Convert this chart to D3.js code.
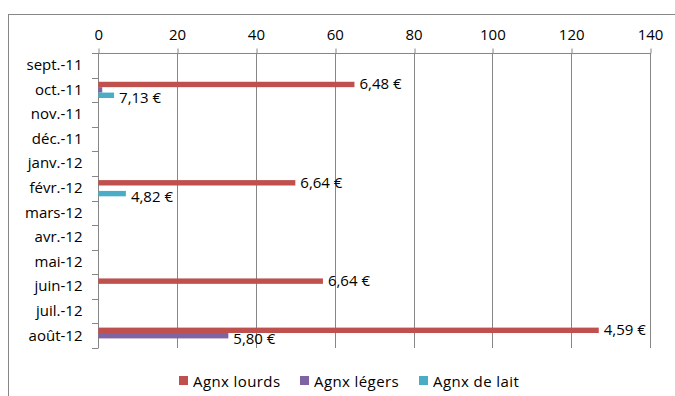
<!DOCTYPE html>
<html>
<head>
<meta charset="utf-8">
<script src="https://cdn.jsdelivr.net/npm/d3@7"></script>
<style>
  html, body { margin: 0; padding: 0; background: #fff; }
  svg { display: block; }
  text { font-family: "Open Sans", sans-serif; fill: #000; }
</style>
</head>
<body>
<svg id="chart" width="675" height="396"></svg>
<script>
// Months shown on the category axis (top to bottom)
const categories = ["sept.-11", "oct.-11", "nov.-11", "déc.-11", "janv.-12", "févr.-12",
                    "mars-12", "avr.-12", "mai-12", "juin-12", "juil.-12", "août-12"];

// Series values (bar lengths)
const lourds = [null, 65, null, null, null, 50, null, null, null, 57, null, 127];
const legers = [null, 1, null, null, null, null, null, null, null, null, null, 33];
const lait   = [null, 4, null, null, null, 7, null, null, null, null, null, null];

// Prices shown next to the bars
const prixLourds = [null, 6.48, null, null, null, 6.64, null, null, null, 6.64, null, 4.59];
const prixLegers = [null, null, null, null, null, null, null, null, null, null, null, 5.80];
const prixLait   = [null, 7.13, null, null, null, 4.82, null, null, null, null, null, null];

// Value axis ticks
const xTicks = [0, 20, 40, 60, 80, 100, 120, 140];

const seriesNames = ["Agnx lourds", "Agnx légers", "Agnx de lait"];
const seriesColors = ["#C0504D", "#8064A2", "#4BACC6"];

const series = [
  { name: seriesNames[0], color: seriesColors[0], values: lourds, prices: prixLourds },
  { name: seriesNames[1], color: seriesColors[1], values: legers, prices: prixLegers },
  { name: seriesNames[2], color: seriesColors[2], values: lait,   prices: prixLait }
];

const fr = d3.formatLocale({ decimal: ",", thousands: " ", grouping: [3], currency: ["", " €"] });
const fmtPrice = v => fr.format(".2f")(v) + " €";

const FONT = "15px";
const svg = d3.select("#chart");

// Chart frame
svg.append("rect")
  .attr("x", 8.5).attr("y", 14.5)
  .attr("width", 700).attr("height", 420)
  .attr("fill", "none").attr("stroke", "#868686").attr("stroke-width", 1);

const plot = { left: 98.3, right: 650, top: 53, bottom: 348 };

const x = d3.scaleLinear().domain([0, 140]).range([plot.left, plot.right]);
const y = d3.scaleBand().domain(categories).range([plot.top, plot.bottom]).paddingInner(0).paddingOuter(0);
const groupPad = 0.17;
const inner = d3.scaleBand().domain(d3.range(series.length))
  .range([y.bandwidth() * groupPad, y.bandwidth() * (1 - groupPad)]);

// Vertical gridlines
svg.append("g")
  .selectAll("line")
  .data(xTicks)
  .join("line")
  .attr("x1", d => Math.round(x(d)) + 0.5).attr("x2", d => Math.round(x(d)) + 0.5)
  .attr("y1", plot.top).attr("y2", plot.bottom)
  .attr("stroke", "#868686").attr("stroke-width", 1);

// Top value axis
const xAxis = d3.axisTop(x).tickValues(xTicks).tickSize(5).tickPadding(9).tickSizeOuter(0);
const gx = svg.append("g")
  .attr("transform", `translate(0,${plot.top + 0.5})`)
  .call(xAxis);
gx.select(".domain").attr("stroke", "#868686").attr("d", `M${x(0)},0H${x(140)}`);
gx.selectAll(".tick line").attr("stroke", "#868686")
  .attr("transform", d => `translate(${Math.round(x(d)) + 0.5 - x(d)},0)`);
gx.selectAll(".tick text")
  .style("font-family", "'Open Sans', sans-serif").style("font-size", FONT).attr("fill", "#000");

// Left category axis
const yAxis = d3.axisLeft(y).tickSize(0).tickPadding(16);
const gy = svg.append("g")
  .attr("transform", `translate(${Math.round(plot.left) + 0.5},0)`)
  .call(yAxis);
gy.select(".domain").attr("stroke", "#868686").attr("d", `M0,${plot.top}V${plot.bottom}`);
gy.selectAll(".tick text")
  .style("font-family", "'Open Sans', sans-serif").style("font-size", FONT).attr("fill", "#000");

// Category boundary tick marks
const bounds = d3.range(categories.length + 1).map(i => plot.top + i * y.step());
svg.append("g")
  .selectAll("line")
  .data(bounds)
  .join("line")
  .attr("x1", Math.round(plot.left) - 6).attr("x2", Math.round(plot.left) + 0.5)
  .attr("y1", d => Math.round(d) + 0.5).attr("y2", d => Math.round(d) + 0.5)
  .attr("stroke", "#868686");

// Bars and price labels
series.forEach((s, si) => {
  const pts = categories.map((c, i) => ({ c, v: s.values[i], p: s.prices[i] }))
    .filter(d => d.v != null);
  const g = svg.append("g");
  g.selectAll("rect")
    .data(pts)
    .join("rect")
    .attr("x", x(0))
    .attr("y", d => y(d.c) + inner(si))
    .attr("width", d => x(d.v) - x(0))
    .attr("height", inner.bandwidth())
    .attr("fill", s.color);
  g.selectAll("text")
    .data(pts.filter(d => d.p != null))
    .join("text")
    .attr("x", d => x(d.v) + 5)
    .attr("y", d => y(d.c) + inner(si) + inner.bandwidth() / 2 + (si === 0 ? -1 : 2))
    .attr("dominant-baseline", "central")
    .style("font-size", FONT)
    .text(d => fmtPrice(d.p));
});

// Legend
const legendX = [179, 300, 419];
const legend = svg.append("g");
series.forEach((s, i) => {
  legend.append("rect")
    .attr("x", legendX[i]).attr("y", 376)
    .attr("width", 9).attr("height", 9)
    .attr("fill", s.color);
  legend.append("text")
    .attr("x", legendX[i] + 14).attr("y", 380.5)
    .attr("dominant-baseline", "central")
    .style("font-size", FONT)
    .style("letter-spacing", "0.4px")
    .text(s.name);
});
</script>
</body>
</html>
